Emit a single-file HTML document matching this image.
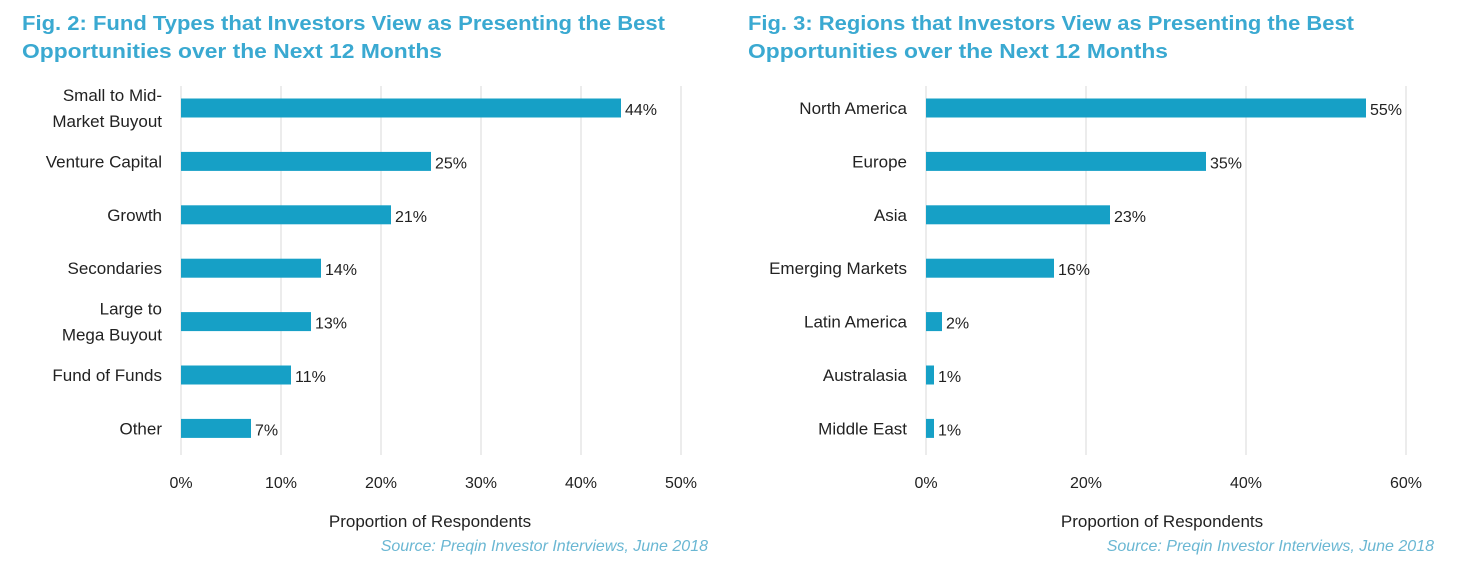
<!DOCTYPE html>
<html><head><meta charset="utf-8"><style>
html,body{margin:0;padding:0;background:#fff;}
svg{display:block;font-family:"Liberation Sans",sans-serif;}
</style></head><body>
<svg id="c" width="1462" height="576"></svg>
<script>
const cats1=["Small to Mid-|Market Buyout","Venture Capital","Growth","Secondaries","Large to|Mega Buyout","Fund of Funds","Other"];
const vals1=[44,25,21,14,13,11,7];
const ticks1=[0,10,20,30,40,50];
const cats2=["North America","Europe","Asia","Emerging Markets","Latin America","Australasia","Middle East"];
const vals2=[55,35,23,16,2,1,1];
const ticks2=[0,20,40,60];
const NS="http://www.w3.org/2000/svg";
const svg=document.getElementById('c');
function mk(t,a,txt){const e=document.createElementNS(NS,t);for(const k in a)e.setAttribute(k,a[k]);if(txt!=null)e.textContent=txt;svg.appendChild(e);return e;}
function chart(o){
  const x=v=>o.x0+(v-o.min)/(o.max-o.min)*(o.x1-o.x0);
  const y=i=>108+i*53.4;
  let t=mk('text',{x:o.tx,y:30,fill:'#3aa9d1','font-size':20,'font-weight':'bold',textLength:o.tw1,lengthAdjust:'spacingAndGlyphs'},o.t1);
  
  
  t=mk('text',{x:o.tx,y:58,fill:'#3aa9d1','font-size':20,'font-weight':'bold',textLength:o.tw2,lengthAdjust:'spacingAndGlyphs'},o.t2);
  
  
  o.ticks.forEach(v=>{
    const g=mk('line',{x1:x(v),x2:x(v),y1:86,y2:455,stroke:'#d9d9d9','stroke-width':1});
    
    
    const l=mk('text',{x:x(v),y:488,'text-anchor':'middle','font-size':16,fill:'#222'},v+'%');
    
    
  });
  o.cats.forEach((c,i)=>{
    const b=mk('rect',{x:x(0),y:y(i)-9.5,width:x(o.vals[i])-x(0),height:19,fill:'#16a0c6'});
    
    
    const vl=mk('text',{x:x(o.vals[i])+4,y:y(i)+7,'font-size':16,fill:'#222'},o.vals[i]+'%');
    
    
    const parts=c.split('|');
    parts.forEach((p,j)=>{
      const yy=y(i)+6+(parts.length>1?(j-0.5)*26:0);
      const cl=mk('text',{x:o.lx,y:yy,'text-anchor':'end','font-size':17,fill:'#222'},p);
      
      
    });
  });
  let a=mk('text',{x:o.axx,y:527,'text-anchor':'middle','font-size':17,fill:'#222'},'Proportion of Respondents');
  
  
  a=mk('text',{x:o.sx,y:551,'text-anchor':'end','font-size':16,'font-style':'italic',fill:'#6ab7d3'},'Source: Preqin Investor Interviews, June 2018');
  
  
}
chart({cats:cats1,vals:vals1,ticks:ticks1,min:0,max:50,x0:181,x1:681,lx:162,tx:22,tw1:643,tw2:420,
  t1:"Fig. 2: Fund Types that Investors View as Presenting the Best",t2:"Opportunities over the Next 12 Months",axx:430,sx:708});
chart({cats:cats2,vals:vals2,ticks:ticks2,min:0,max:60,x0:926,x1:1406,lx:907,tx:748,tw1:606,tw2:420,
  t1:"Fig. 3: Regions that Investors View as Presenting the Best",t2:"Opportunities over the Next 12 Months",axx:1162,sx:1434});
</script>
</body></html>
